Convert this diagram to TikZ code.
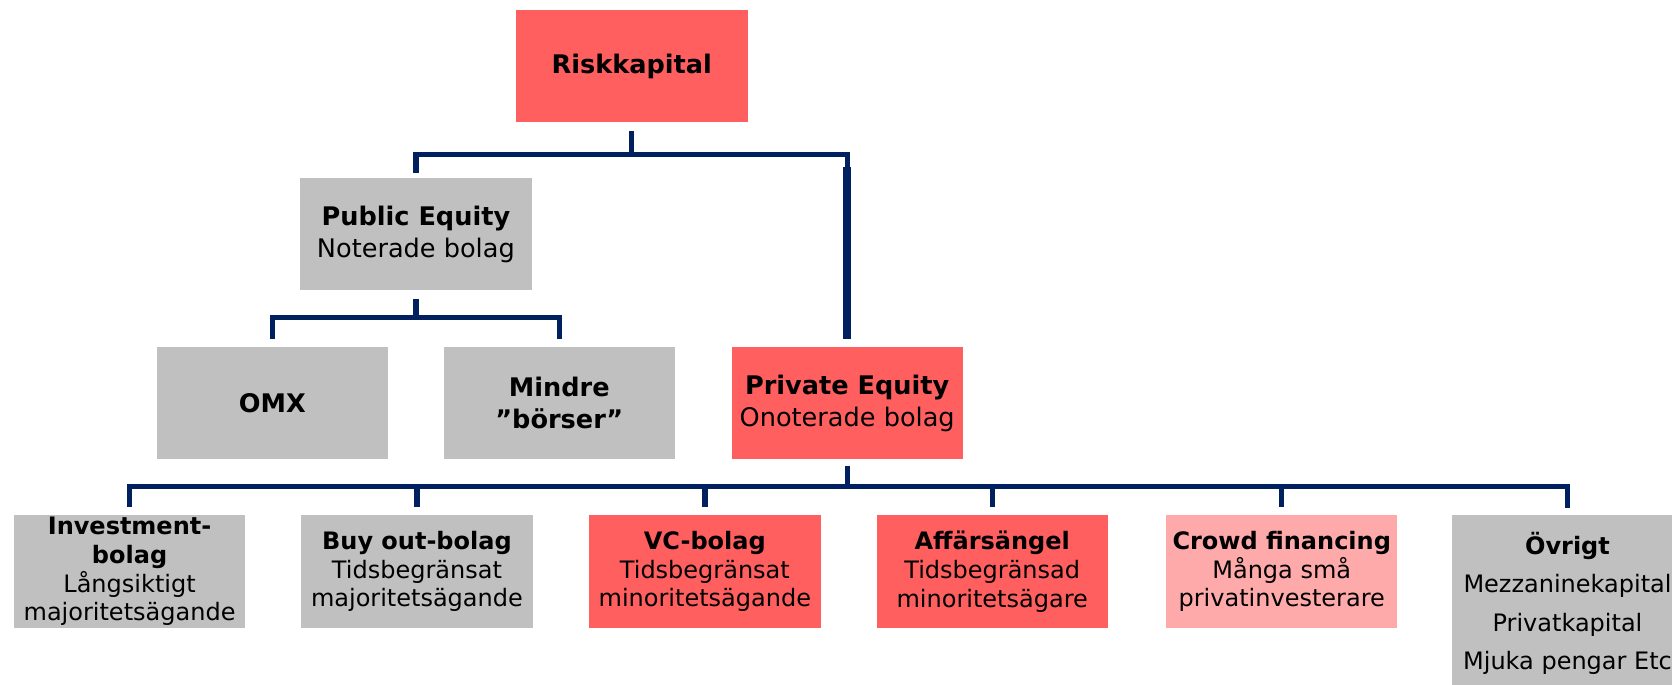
\documentclass[tikz,border=0pt]{standalone}
\usepackage{fontspec}
\setmainfont{DejaVu Sans}
\usepackage{tikz}
\definecolor{riskred}{RGB}{255,95,95}
\definecolor{crowdpink}{RGB}{255,170,170}
\definecolor{boxgray}{RGB}{192,192,192}
\definecolor{linenavy}{RGB}{0,32,96}

\begin{document}
\begin{tikzpicture}[x=1pt, y=-1pt,
    box/.style={minimum width=217pt, minimum height=105pt, inner sep=0pt, align=center, font=\fontsize{24}{30}\selectfont},
    lowbox/.style={box, minimum height=106pt, font=\fontsize{22.5}{27}\selectfont},
    conn/.style={line width=5pt, linenavy}]
\useasboundingbox (0,0) rectangle (1568,642);
\clip (0,0) rectangle (1568,642);

\node[box, fill=riskred] (risk) at (592.5,62) {\textbf{Riskkapital}};
\node[box, fill=boxgray] (pub) at (390,219.5) {\textbf{Public Equity}\\Noterade bolag};
\node[box, fill=boxgray] (omx) at (255.5,378) {\textbf{OMX}};
\node[box, fill=boxgray] (mindre) at (524.5,378) {\textbf{Mindre}\\\textbf{”börser”}};
\node[box, fill=riskred] (pe) at (794.5,378) {\textbf{Private Equity}\\Onoterade bolag};

\foreach \n/\x/\c/\t in {inv/121.5/boxgray/{\textbf{Investment-}\\\textbf{bolag}\\Långsiktigt\\majoritetsägande},
    buy/391/boxgray/{\textbf{Buy out-bolag}\\Tidsbegränsat\\majoritetsägande},
    vc/661/riskred/{\textbf{VC-bolag}\\Tidsbegränsat\\minoritetsägande},
    aff/930.5/riskred/{\textbf{Affärsängel}\\Tidsbegränsad\\minoritetsägare},
    crowd/1202/crowdpink/{\textbf{Crowd financing}\\Många små\\privatinvesterare}}
    \node[lowbox, fill=\c] (\n) at (\x,536) {\t};
\node[lowbox, fill=boxgray, anchor=north, minimum height=165pt, font=\fontsize{22.5}{36}\selectfont] (ovr) at (1470,483)
    {\textbf{Övrigt}\\Mezzaninekapital\\Privatkapital\\Mjuka pengar Etc};

% first level
\coordinate (top) at (592.5,145);
\draw[conn, shorten <=8pt] (risk.south) -- (risk.south |- top);
\draw[conn, shorten <=5pt, shorten >=7pt] (pub.north) |- (top) -| (pe.north);
\draw[linenavy, line width=7.5pt, shorten <=12pt, shorten >=7pt] (pe.north |- top) -- (pe.north);

% public equity
\coordinate (mid) at (390,298);
\draw[conn, shorten <=8pt] (pub.south) -- (pub.south |- mid);
\draw[conn, shorten <=7pt, shorten >=7pt] (omx.north) |- (mid) -| (mindre.north);

% private equity
\coordinate (low) at (794.5,456);
\draw[conn, shorten <=6pt] (pe.south) -- (pe.south |- low);
\draw[conn, shorten <=7pt, shorten >=7pt] (inv.north) |- (low) -| (ovr.north);
\foreach \n in {buy,vc,aff,crowd}
    \draw[conn, shorten <=7pt] (\n.north) -- (\n.north |- low);
\end{tikzpicture}
\end{document}
